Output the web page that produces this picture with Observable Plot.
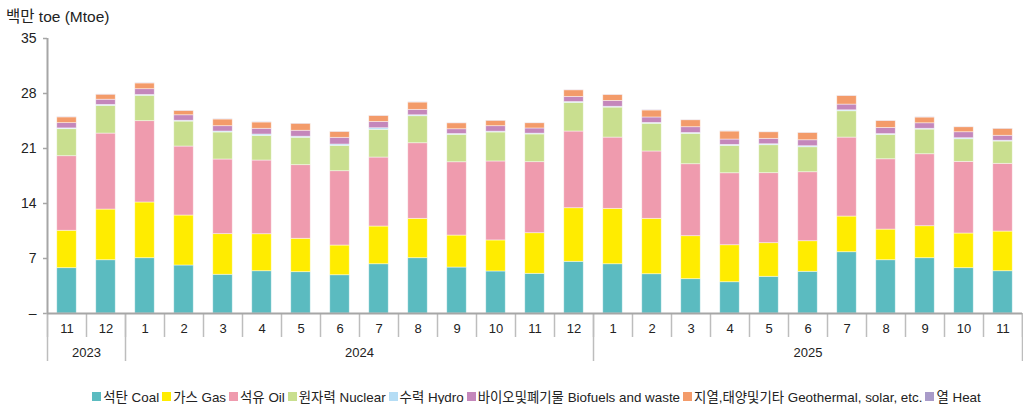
<!DOCTYPE html>
<html>
<head>
<meta charset="utf-8">
<script src="https://cdn.jsdelivr.net/npm/d3@7"></script>
<script src="https://cdn.jsdelivr.net/npm/@observablehq/plot@0.6"></script>
<style>
  body { margin: 0; background: #fff; font-family: "Liberation Sans", "Noto Sans CJK KR", sans-serif; color: #222; }
  #wrap { position: relative; width: 1023px; height: 404px; }
  #title { position: absolute; left: 6px; top: 4px; font-size: 15.5px; }
  #chart { position: absolute; left: 0; top: 25px; }
  #legend { position: absolute; left: 0; top: 386px; width: 1023px; display: flex; justify-content: center; font-size: 13.4px; padding-left: 53px; box-sizing: border-box; }
  .item { display: flex; align-items: center; margin-right: 3px; white-space: nowrap; }
  .sw { width: 9px; height: 9px; margin-right: 2px; display: inline-block; }
</style>
</head>
<body>
<div id="wrap">
  <div id="title">백만 toe (Mtoe)</div>
  <div id="chart"></div>
  <div id="legend"></div>
</div>
<script>
const months = ["11","12","1","2","3","4","5","6","7","8","9","10","11","12","1","2","3","4","5","6","7","8","9","10","11"];
const years = ["2023","2023","2024","2024","2024","2024","2024","2024","2024","2024","2024","2024","2024","2024","2025","2025","2025","2025","2025","2025","2025","2025","2025","2025","2025"];
const seriesNames = ["석탄 Coal","가스 Gas","석유 Oil","원자력 Nuclear","수력 Hydro","바이오및폐기물 Biofuels and waste","지열,태양및기타 Geothermal, solar, etc.","열 Heat"];
const seriesColors = ["#5bbbc0","#ffec00","#ef9bae","#c9df8f","#b5ddf5","#c487bb","#f39b6a","#a99bc9"];
const coal = [5.77,6.78,7.04,6.11,4.93,5.38,5.26,4.87,6.27,7.04,5.85,5.35,5.05,6.58,6.27,5.0,4.37,3.98,4.67,5.31,7.8,6.78,7.04,5.77,5.38];
const gas = [4.76,6.45,7.09,6.36,5.17,4.71,4.25,3.78,4.8,5.01,4.07,3.95,5.17,6.82,7.05,7.05,5.47,4.71,4.28,3.89,4.54,3.9,4.07,4.41,5.05];
const oil = [9.49,9.67,10.35,8.78,9.5,9.38,9.37,9.46,8.78,9.62,9.33,10.05,9.04,9.76,9.07,8.57,9.16,9.16,8.91,8.78,10.05,8.95,9.16,9.12,8.62];
const nuclear = [3.44,3.53,3.23,3.18,3.44,3.14,3.49,3.23,3.53,3.44,3.49,3.69,3.53,3.65,3.82,3.53,3.87,3.49,3.56,3.18,3.35,3.1,3.14,2.88,2.84];
const hydro = [0.1,0.12,0.1,0.1,0.12,0.17,0.13,0.17,0.2,0.12,0.1,0.1,0.1,0.1,0.1,0.1,0.1,0.12,0.12,0.13,0.12,0.1,0.1,0.13,0.1];
const biofuels = [0.67,0.66,0.74,0.7,0.68,0.73,0.76,0.85,0.81,0.69,0.61,0.7,0.66,0.66,0.75,0.7,0.74,0.68,0.69,0.76,0.73,0.79,0.7,0.76,0.63];
const geothermal = [0.73,0.64,0.73,0.56,0.85,0.8,0.89,0.76,0.76,0.93,0.76,0.69,0.67,0.84,0.76,0.89,0.89,1.02,0.84,0.94,1.1,0.89,0.73,0.64,0.89];
const heat = [0.03,0.03,0.03,0.03,0.03,0.03,0.03,0.03,0.03,0.03,0.03,0.03,0.03,0.03,0.03,0.03,0.03,0.03,0.03,0.03,0.03,0.03,0.03,0.03,0.03];
const yTicks = [0,7,14,21,28,35];

const seriesValues = [coal, gas, oil, nuclear, hydro, biofuels, geothermal, heat];

// build stacked rows
const rows = [];
months.forEach((m, i) => {
  let base = 0;
  seriesValues.forEach((vals, s) => {
    rows.push({i0: i, i1: i + 1, y1: base, y2: base + vals[i], s: seriesNames[s]});
    base += vals[i];
  });
});

const n = months.length;
const edges = d3.range(n + 1);
const centers = d3.range(n).map(i => i + 0.5);
const yearGroups = [];
years.forEach((y, i) => {
  const last = yearGroups[yearGroups.length - 1];
  if (last && last.year === y) last.end = i + 1;
  else yearGroups.push({year: y, start: i, end: i + 1});
});
const yearEdges = [...yearGroups.map(g => g.start), n];
const yearCenters = yearGroups.map(g => (g.start + g.end) / 2);

const font = "\"Liberation Sans\", \"Noto Sans CJK KR\", sans-serif";
const chart = Plot.plot({
  width: 1023,
  height: 345,
  marginTop: 13,
  marginBottom: 57,
  marginLeft: 47,
  marginRight: 1,
  style: {fontFamily: font, fontSize: "13px", color: "#222", background: "#fff"},
  x: {type: "linear", domain: [0, n], axis: null},
  y: {domain: [0, 35], axis: null},
  color: {domain: seriesNames, range: seriesColors},
  marks: [
    Plot.rectY(rows, {x1: "i0", x2: "i1", y1: "y1", y2: "y2", fill: "s", insetLeft: 9.75, insetRight: 9.75, stroke: "#fff", strokeOpacity: 0.55, strokeWidth: 0.8}),
    Plot.axisY({ticks: yTicks, tickSize: 4, tickPadding: 7, stroke: "#a6a6a6", strokeWidth: 1.5, tickFormat: d => d === 0 ? "–" : String(d), fontSize: 14, fill: "#222"}),
    Plot.ruleX([0], {stroke: "#a6a6a6", strokeWidth: 2}),
    Plot.axisX({ticks: edges, tickSize: 24, tickFormat: () => "", stroke: "#bdbdbd", strokeWidth: 1.5}),
    Plot.axisX({ticks: yearEdges, tickSize: 48, tickFormat: () => "", stroke: "#bdbdbd", strokeWidth: 1.5}),
    Plot.axisX({ticks: centers, tickSize: 0, tickPadding: 10, tickFormat: d => months[Math.floor(d)], fontSize: 13, fill: "#222"}),
    Plot.axisX({ticks: yearCenters, tickSize: 0, tickPadding: 34, tickFormat: d => yearGroups[yearCenters.indexOf(d)].year, fontSize: 13, fill: "#222"}),
    Plot.ruleY([0], {stroke: "#a6a6a6", strokeWidth: 2})
  ]
});
document.getElementById("chart").appendChild(chart);

const legend = document.getElementById("legend");
seriesNames.forEach((name, s) => {
  const it = document.createElement("span");
  it.className = "item";
  const sw = document.createElement("span");
  sw.className = "sw";
  sw.style.background = seriesColors[s];
  it.appendChild(sw);
  it.appendChild(document.createTextNode(name));
  legend.appendChild(it);
});
</script>
</body>
</html>
